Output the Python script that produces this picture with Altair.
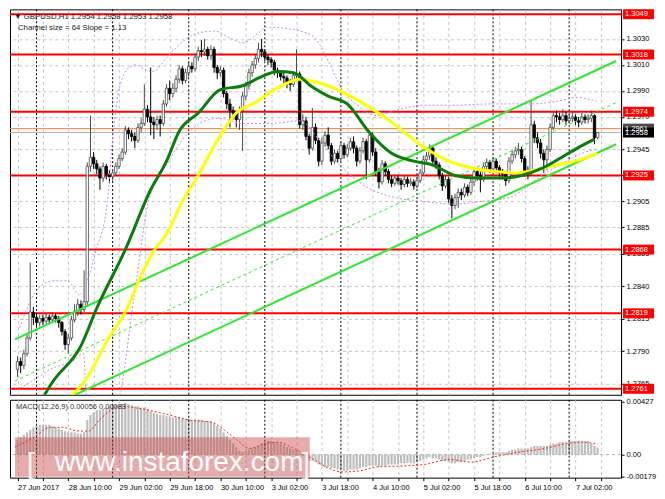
import json
import altair as alt
import pandas as pd

# ---------------- data ----------------
FIRST_BAR = -6          # bar index of the first visible H1 candle (27 Jun 18:00); 0 = 28 Jun 00:00
first_open = 1.2776

close = [
    1.2782, 1.2779, 1.2788, 1.2800, 1.2820, 1.2816, 1.2812, 1.2815, 1.2813, 1.2816,
    1.2814, 1.2817, 1.2815, 1.2812, 1.2805, 1.2795, 1.2800, 1.2814, 1.2820, 1.2826,
    1.2822, 1.2828, 1.2932, 1.2939, 1.2934, 1.2930, 1.2923, 1.2932, 1.2926, 1.2924,
    1.2927, 1.2932, 1.2938, 1.2943, 1.2960, 1.2957, 1.2955, 1.2952, 1.2962, 1.2965,
    1.2976, 1.2970, 1.2966, 1.2964, 1.2968, 1.2965, 1.2980, 1.2992, 1.2988, 1.2992,
    1.2999, 1.3007, 1.2998, 1.3004, 1.3009, 1.3007, 1.3016, 1.3021, 1.3020, 1.3022,
    1.3017, 1.3022, 1.3008, 1.3004, 1.3006, 1.2988, 1.2980, 1.2975, 1.2973, 1.2968,
    1.2975, 1.2986, 1.2994, 1.3004, 1.3010, 1.3015, 1.3022, 1.3020, 1.3016, 1.3014,
    1.3012, 1.3006, 1.3004, 1.3001, 1.3000, 1.2996, 1.2995, 1.3002, 1.3003, 1.2964,
    1.2967, 1.2955, 1.2946, 1.2962, 1.2952, 1.2936, 1.2950, 1.2956, 1.2948, 1.2936,
    1.2942, 1.2938, 1.2948, 1.2941, 1.2946, 1.2951, 1.2946, 1.2936, 1.2944, 1.2951,
    1.2937, 1.2956, 1.2943, 1.2928, 1.2920, 1.2934, 1.2928, 1.2922, 1.2919, 1.2923,
    1.2921, 1.2918, 1.2922, 1.2919, 1.2920, 1.2917, 1.2921, 1.2927, 1.2937, 1.2940,
    1.2946, 1.2936, 1.2933, 1.2925, 1.2917, 1.2922, 1.2907, 1.2902, 1.2908, 1.2912,
    1.2910, 1.2916, 1.2912, 1.2920, 1.2928, 1.2925, 1.2922, 1.2932, 1.2935, 1.2930,
    1.2936, 1.2931, 1.2927, 1.2926, 1.2921, 1.2936, 1.2941, 1.2944, 1.2945, 1.2938,
    1.2928, 1.2927, 1.2964, 1.2954, 1.2950, 1.2942, 1.2937, 1.2945, 1.2962, 1.2971,
    1.2970, 1.2968, 1.2971, 1.2967, 1.2969, 1.2970, 1.2967, 1.2966, 1.2970, 1.2968,
    1.2969, 1.2971, 1.2954, 1.2958,
]
high = [
    1.2786, 1.2785, 1.2791, 1.2803, 1.2858, 1.2824, 1.2819, 1.2818, 1.2818, 1.2819,
    1.2818, 1.2820, 1.2819, 1.2817, 1.2813, 1.2807, 1.2803, 1.2817, 1.2826, 1.2830,
    1.2829, 1.2852, 1.2935, 1.2971, 1.2943, 1.2937, 1.2932, 1.2935, 1.2934, 1.2929,
    1.2930, 1.2935, 1.2941, 1.2946, 1.2963, 1.2962, 1.2960, 1.2958, 1.2965, 1.2969,
    1.2995, 1.2979, 1.3008, 1.2970, 1.2971, 1.2971, 1.2983, 1.2995, 1.2998, 1.2996,
    1.3002, 1.3010, 1.3009, 1.3007, 1.3012, 1.3012, 1.3018, 1.3024, 1.3029, 1.3030,
    1.3024, 1.3025, 1.3024, 1.3010, 1.3009, 1.3008, 1.2990, 1.2984, 1.2978, 1.2975,
    1.2978, 1.2989, 1.2997, 1.3007, 1.3013, 1.3018, 1.3027, 1.3030, 1.3022, 1.3018,
    1.3016, 1.3014, 1.3008, 1.3006, 1.3004, 1.3002, 1.2999, 1.3005, 1.3022, 1.3005,
    1.2972, 1.2970, 1.2957, 1.2977, 1.2965, 1.2954, 1.2954, 1.2959, 1.2962, 1.2950,
    1.2945, 1.2944, 1.2951, 1.2950, 1.2949, 1.2954, 1.2955, 1.2948, 1.2947, 1.2954,
    1.2953, 1.2960, 1.2958, 1.2946, 1.2931, 1.2937, 1.2936, 1.2930, 1.2925, 1.2926,
    1.2925, 1.2923, 1.2925, 1.2924, 1.2923, 1.2922, 1.2924, 1.2930, 1.2940, 1.2943,
    1.2949, 1.2948, 1.2939, 1.2935, 1.2927, 1.2925, 1.2924, 1.2910, 1.2911, 1.2915,
    1.2915, 1.2919, 1.2918, 1.2923, 1.2931, 1.2931, 1.2928, 1.2935, 1.2938, 1.2937,
    1.2939, 1.2938, 1.2933, 1.2930, 1.2928, 1.2939, 1.2944, 1.2947, 1.2950, 1.2947,
    1.2940, 1.2932, 1.2983, 1.2967, 1.2958, 1.2953, 1.2945, 1.2948, 1.2965, 1.2974,
    1.2975, 1.2973, 1.2976, 1.2974, 1.2972, 1.2974, 1.2972, 1.2970, 1.2973, 1.2972,
    1.2972, 1.2975, 1.2972, 1.2958,
]
low = [
    1.2770, 1.2773, 1.2776, 1.2786, 1.2798, 1.2810, 1.2808, 1.2809, 1.2810, 1.2811,
    1.2811, 1.2812, 1.2812, 1.2808, 1.2802, 1.2791, 1.2788, 1.2798, 1.2812, 1.2817,
    1.2818, 1.2820, 1.2824, 1.2928, 1.2930, 1.2926, 1.2914, 1.2920, 1.2922, 1.2919,
    1.2921, 1.2925, 1.2930, 1.2936, 1.2941, 1.2953, 1.2951, 1.2946, 1.2950, 1.2958,
    1.2963, 1.2966, 1.2956, 1.2953, 1.2960, 1.2955, 1.2963, 1.2978, 1.2983, 1.2985,
    1.2989, 1.2996, 1.2995, 1.2996, 1.3001, 1.3004, 1.3005, 1.3013, 1.3016, 1.3017,
    1.3014, 1.3014, 1.3004, 1.2999, 1.3001, 1.2985, 1.2976, 1.2962, 1.2968, 1.2962,
    1.2960, 1.2944, 1.2983, 1.2991, 1.3001, 1.3007, 1.3012, 1.3016, 1.3013, 1.3010,
    1.3008, 1.3002, 1.3000, 1.2998, 1.2996, 1.2992, 1.2990, 1.2993, 1.2998, 1.2961,
    1.2960, 1.2952, 1.2941, 1.2944, 1.2949, 1.2932, 1.2933, 1.2947, 1.2945, 1.2933,
    1.2934, 1.2935, 1.2936, 1.2938, 1.2939, 1.2944, 1.2942, 1.2932, 1.2934, 1.2942,
    1.2922, 1.2935, 1.2940, 1.2925, 1.2915, 1.2918, 1.2925, 1.2919, 1.2916, 1.2917,
    1.2918, 1.2914, 1.2916, 1.2916, 1.2917, 1.2914, 1.2915, 1.2919, 1.2925, 1.2934,
    1.2937, 1.2933, 1.2930, 1.2922, 1.2913, 1.2915, 1.2904, 1.2892, 1.2899, 1.2900,
    1.2906, 1.2908, 1.2909, 1.2910, 1.2917, 1.2921, 1.2912, 1.2920, 1.2929, 1.2927,
    1.2928, 1.2928, 1.2924, 1.2922, 1.2917, 1.2919, 1.2934, 1.2938, 1.2941, 1.2935,
    1.2924, 1.2922, 1.2925, 1.2950, 1.2946, 1.2938, 1.2927, 1.2929, 1.2943, 1.2960,
    1.2966, 1.2964, 1.2966, 1.2964, 1.2965, 1.2966, 1.2964, 1.2962, 1.2964, 1.2965,
    1.2965, 1.2966, 1.2949, 1.2953,
]

# MACD histogram, one value per bar
macd_hist = [
    0.0012, 0.0014, 0.0016, 0.0018, 0.0020, 0.0022,
    0.0023, 0.0024, 0.0024, 0.0024, 0.0024, 0.0023,
    0.0022, 0.0021, 0.0020, 0.0019,
    0.0018, 0.0018, 0.0018, 0.0017, 0.0017, 0.0018,
    0.0028, 0.0032, 0.0034, 0.0036, 0.0036, 0.0037, 0.0038, 0.0039, 0.0040, 0.0040, 0.0040, 0.0041, 0.0042, 0.0041,
    0.0040, 0.0039, 0.0039, 0.0038, 0.0038, 0.0037, 0.0035, 0.0034, 0.0033, 0.0032, 0.0032, 0.0031,
    0.0031, 0.0030, 0.0030, 0.0030, 0.0029, 0.0029, 0.0029,
    0.0028, 0.0028, 0.0028, 0.0028, 0.0027, 0.0027, 0.0027,
    0.0025, 0.0023, 0.0021,
    0.0018, 0.0015, 0.0012, 0.0009, 0.0006, 0.0003, 0.0002,
    0.0003, 0.0004, 0.0005, 0.0006, 0.0007,
    0.0009, 0.0010, 0.0011, 0.0011, 0.0010, 0.0010,
    0.0009, 0.0008, 0.0006, 0.0005, 0.0004, 0.0004,
    0.0001, -0.0001, -0.0003, -0.0005, -0.0005, -0.0006, -0.0008,
    -0.0009, -0.0010, -0.0010, -0.0011,
    -0.0011, -0.0012, -0.0012, -0.0013, -0.0013, -0.0012,
    -0.0012, -0.0012, -0.0011, -0.0010, -0.0010,
    -0.0009, -0.0009, -0.0009, -0.0010, -0.0009, -0.0009,
    -0.0008, -0.0008, -0.0008, -0.0008, -0.0007, -0.0007, -0.0007, -0.0007, -0.0007,
    -0.0006, -0.0005, -0.0004, -0.0003, -0.0002,
    -0.0003, -0.0003, -0.0004, -0.0005, -0.0005, -0.0006, -0.0007,
    -0.0007, -0.0006, -0.0006, -0.0005, -0.0004, -0.0004,
    -0.0003, -0.0002, -0.0002, -0.0001, 0.00003,
    0.0001, 0.0001, 0.0002, 0.0002, 0.0002, 0.0002,
    0.0003, 0.0004, 0.0004, 0.0005, 0.0005, 0.0005, 0.0005,
    0.0006, 0.0007, 0.0007, 0.0007, 0.0007, 0.0007, 0.0008,
    0.0009, 0.0009, 0.0010, 0.0010, 0.0010, 0.0011,
    0.0011, 0.0011, 0.0011, 0.0011, 0.0011, 0.0011,
    0.0009, 0.0007, 0.00056,
]

# MACD signal line (read at knots)
signal_bar = [-6.8, -0.8, 4.3, 8.2, 13.3, 16.3, 20.2, 26.2, 33.1, 40.3, 48.1, 55.3, 59.2, 63.1,
              67.3, 72.1, 76.3, 81.1, 86.2, 92.2, 96.1, 102.1, 107.2, 117.1, 122.2, 130.3,
              137.2, 144.1, 152.2, 160.3, 167.2, 172.3, 177]
signal_val = [0.0006, 0.0014, 0.0022, 0.0022, 0.0019, 0.0019, 0.0029, 0.0039, 0.0037, 0.0033,
              0.0028, 0.0026, 0.0020, 0.0012, 0.0005, 0.0009, 0.0010, 0.0005, -0.0002, -0.0011,
              -0.0014, -0.0013, -0.0010, -0.0009, -0.0008, -0.0004, -0.0006, -0.0002, 0.0002,
              0.0005, 0.0009, 0.0010, 0.00083]

# moving averages (read at knots)
green_bar = [1, 5, 14, 19, 28, 36, 41, 45, 51, 58, 65, 71, 76, 81, 87, 92, 98, 105, 112, 119,
             125, 132, 139, 146, 153, 159, 165, 172, 176]
green_val = [1.2750, 1.2766, 1.2794, 1.2823, 1.2868, 1.2914, 1.2936, 1.2959, 1.2973, 1.2991,
             1.2994, 1.3001, 1.3005, 1.3004, 1.2993, 1.2986, 1.2980, 1.2958, 1.2942, 1.2936,
             1.2933, 1.2925, 1.2923, 1.2923, 1.2925, 1.2930, 1.2938, 1.2948, 1.2953]
yellow_bar = [9, 15, 23, 28, 33, 37, 41, 46, 51, 58, 63, 69, 75, 80, 83, 92, 102, 112, 122, 130,
              137, 145, 152, 157, 162, 170, 177]
yellow_val = [1.2752, 1.2766, 1.2801, 1.2820, 1.2848, 1.2867, 1.2880, 1.2905, 1.2925, 1.2956,
              1.2973, 1.2981, 1.2991, 1.2997, 1.2999, 1.2994, 1.2982, 1.2966, 1.2947, 1.2936,
              1.2931, 1.2928, 1.2927, 1.2929, 1.2932, 1.2936, 1.2942]

# dotted purple envelope (read at knots)
band_up_bar = [-5.3, -0.2, 5.2, 9.7, 13.6, 15.7, 18.7, 22.3, 24.1, 26.2, 29.2, 31.6, 33.7, 36.7,
               41.2, 45.7, 50.2, 56.3, 60.8, 65.2, 69.7, 72.7, 78.7, 83.2, 87.7, 92.2, 96.7,
               101.2, 107.2, 113.2, 122.2, 131.2, 143.2, 155.2, 164.2, 170.2, 176.8]
band_up_val = [1.2808, 1.2836, 1.2844, 1.2844, 1.2833, 1.2842, 1.2867, 1.2904, 1.2956, 1.2993,
               1.3008, 1.3010, 1.3007, 1.3005, 1.3016, 1.3027, 1.3034, 1.3036, 1.3031, 1.3027,
               1.3034, 1.3039, 1.3038, 1.3036, 1.3031, 1.3012, 1.2990, 1.2979, 1.2971, 1.2975,
               1.2979, 1.2979, 1.2980, 1.2980, 1.2982, 1.2985, 1.2982]
band_lo_bar = [-6.2, -0.8, 5.2, 11.2, 14.8, 16.0, 24.7, 30.7, 35.2, 41.2, 47.2, 53.2, 57.7, 65.2,
               74.2, 83.2, 89.2, 95.2, 104.2, 113.2, 122.2, 131.2, 140.2, 149.2, 158.2, 165.7,
               173.2, 176.8]
band_lo_val = [1.2760, 1.2768, 1.2777, 1.2782, 1.2788, 1.2745, 1.2745, 1.2830, 1.2904, 1.2934,
               1.2956, 1.2967, 1.2969, 1.2965, 1.2965, 1.2967, 1.2952, 1.2934, 1.2916, 1.2908,
               1.2905, 1.2903, 1.2905, 1.2908, 1.2923, 1.2934, 1.2943, 1.2945]

# regression channel (size 64, slope 1.13)
chan_bar = [-6.8, 182.8]
chan_upper = [1.2799, 1.3013]
chan_mid = [1.2767, 1.2981]
chan_lower = [1.2735, 1.2949]

levels = [1.3049, 1.3018, 1.2974, 1.2925, 1.2868, 1.2819, 1.2761]
ask_price = 1.2961
bid_price = 1.2958

price_ticks = [1.3030, 1.3010, 1.2990, 1.2970, 1.2945, 1.2925, 1.2905, 1.2885, 1.2865,
               1.2840, 1.2815, 1.2790, 1.2765]
macd_ticks = [0.00427, 0.0, -0.00179]
macd_tick_labels = ["0.00427", "0.00", "-0.00179"]

grid_bars = list(range(-6, 183, 8))
day_bars = [0, 24, 48, 72, 96, 120, 144, 168]
time_label_bars = [-6, 10, 26, 42, 58, 74, 90, 106, 122, 138, 154, 170]
time_labels = ["27 Jun 2017", "28 Jun 10:00", "29 Jun 02:00", "29 Jun 18:00", "30 Jun 10:00",
               "3 Jul 02:00", "3 Jul 18:00", "4 Jul 10:00", "5 Jul 02:00", "5 Jul 18:00",
               "6 Jul 10:00", "7 Jul 02:00"]

header_1 = "\u25bc GBPUSD,H1 1.2954 1.2958 1.2953 1.2958"
header_2 = "Channel size = 64 Slope = 1.13"
macd_header = "MACD(12,26,9) 0.00056 0.00083"
watermark = "www.instaforex.com"
wm_bar = [-6.8, 86.2]
wm_val = [0.0014, -0.00178]

# ---------------- layout / style ----------------
W = 612
H_MAIN = 386
H_MACD = 78
FONT = "Liberation Sans"
GRID = "#c4c4c4"

xs = alt.Scale(domain=[-6.8, 182.8], nice=False, zero=False)
ys = alt.Scale(domain=[1.27564, 1.30527], nice=False, zero=False)
ms = alt.Scale(domain=[-0.00186, 0.00443], nice=False, zero=False)

vals = json.dumps(time_label_bars)
labs = json.dumps(time_labels)
time_expr = f"indexof({vals}, datum.value) >= 0 ? {labs}[indexof({vals}, datum.value)] : ''"
mvals = json.dumps(macd_ticks)
mlabs = json.dumps(macd_tick_labels)
macd_expr = f"indexof({mvals}, datum.value) >= 0 ? {mlabs}[indexof({mvals}, datum.value)] : ''"

# one axis object per channel, shared by every layer that uses the channel
x_axis_main = alt.Axis(values=grid_bars, grid=True, gridColor=GRID, gridDash=[3, 3],
                       labels=False, ticks=False, domain=False, title=None, zindex=0)
y_axis_main = alt.Axis(orient="right", values=price_ticks, format=".4f", grid=True,
                       gridColor=GRID, gridDash=[3, 3], tickColor="black", tickSize=3,
                       domainColor="black", labelColor="black", labelFont=FONT,
                       labelFontSize=7.5, labelPadding=2, labelOverlap=False,
                       labelBound=False, labelFlush=False, title=None, zindex=0)
x_axis_macd = alt.Axis(values=grid_bars, grid=True, gridColor=GRID, gridDash=[3, 3],
                       labelExpr=time_expr, labelAlign="left", labelFont=FONT,
                       labelFontSize=7.5, labelColor="black", tickColor="black", tickSize=3,
                       domain=False, labelPadding=3, labelOverlap=False, labelBound=False,
                       labelFlush=False, title=None, zindex=0)
y_axis_macd = alt.Axis(orient="right", values=macd_ticks, labelExpr=macd_expr, grid=False,
                       tickColor="black", tickSize=3, domainColor="black", labelColor="black",
                       labelFont=FONT, labelFontSize=7.5, labelPadding=2, labelOverlap=False,
                       labelBound=False, labelFlush=False, title=None, zindex=0)


def X(field="i", axis=x_axis_main):
    return alt.X(f"{field}:Q", scale=xs, axis=axis)


def Y(field):
    return alt.Y(f"{field}:Q", scale=ys, axis=y_axis_main)


def XM(field="i"):
    return alt.X(f"{field}:Q", scale=xs, axis=x_axis_macd)


def M(field):
    return alt.Y(f"{field}:Q", scale=ms, axis=y_axis_macd)


# ---------------- tables ----------------
n = len(close)
opens = [first_open] + close[:-1]
bars = pd.DataFrame({"i": list(range(FIRST_BAR, FIRST_BAR + n)), "open": opens,
                     "close": close, "high": high, "low": low})
bars["up"] = bars["close"] >= bars["open"]
bars["blo"] = bars[["open", "close"]].min(axis=1)
bars["bhi"] = bars[["open", "close"]].max(axis=1)
bars.loc[bars["bhi"] - bars["blo"] < 0.00004, "bhi"] = bars["blo"] + 0.00004
bars["dir"] = bars["up"].map({True: "up", False: "down"})

day_df = pd.DataFrame({"i": day_bars})
lev_df = pd.DataFrame({"level": levels, "label": [f"{v:.4f}" for v in levels]})

bands = pd.concat([
    pd.DataFrame({"i": band_up_bar, "p": band_up_val, "b": "up"}),
    pd.DataFrame({"i": band_lo_bar, "p": band_lo_val, "b": "lo"}),
])
chan = pd.concat([
    pd.DataFrame({"i": chan_bar, "p": chan_upper, "b": "upper"}),
    pd.DataFrame({"i": chan_bar, "p": chan_lower, "b": "lower"}),
])
chan_m = pd.DataFrame({"i": chan_bar, "p": chan_mid})
green_df = pd.DataFrame({"i": green_bar, "p": green_val})
yellow_df = pd.DataFrame({"i": yellow_bar, "p": yellow_val})

# ---------------- main panel ----------------
day_layer = alt.Chart(day_df).mark_rule(color="black", strokeDash=[2, 2], strokeWidth=1).encode(x=X())
level_layer = alt.Chart(lev_df).mark_rule(color="#ff0000", strokeWidth=2).encode(y=Y("level"))
ask_layer = alt.Chart(pd.DataFrame({"p": [ask_price]})).mark_rule(
    color="#ff7a30", strokeWidth=1).encode(y=Y("p"))
bid_layer = alt.Chart(pd.DataFrame({"p": [bid_price]})).mark_rule(
    color="#b0b0b0", strokeWidth=1).encode(y=Y("p"))

cdir = alt.Scale(domain=["up", "down"], range=["#4a4a4a", "#000000"])
cfill = alt.Scale(domain=["up", "down"], range=["#ffffff", "#000000"])
wick_layer = alt.Chart(bars).mark_rule(strokeWidth=1, clip=True).encode(
    x=X(), y=Y("low"), y2="high",
    color=alt.Color("dir:N", scale=cdir, legend=None))
body_layer = alt.Chart(bars).mark_bar(size=2.4, strokeWidth=0.8, clip=True).encode(
    x=X(), y=Y("blo"), y2="bhi",
    fill=alt.Fill("dir:N", scale=cfill, legend=None),
    stroke=alt.Stroke("dir:N", scale=cdir, legend=None))

band_layer = alt.Chart(bands).mark_line(color="#c88ae6", strokeDash=[2, 2], strokeWidth=1,
                                        clip=True, interpolate="monotone").encode(
    x=X(), y=Y("p"), detail="b:N")
chan_layer = alt.Chart(chan).mark_line(color="#2ee82e", strokeWidth=2, clip=True).encode(
    x=X(), y=Y("p"), detail="b:N")
chan_mid_layer = alt.Chart(chan_m).mark_line(color="#2ee82e", strokeWidth=1, strokeDash=[3, 3],
                                             clip=True).encode(x=X(), y=Y("p"))
yellow_layer = alt.Chart(yellow_df).mark_line(color="#ffff00", strokeWidth=3, clip=True,
                                              interpolate="monotone").encode(x=X(), y=Y("p"))
green_layer = alt.Chart(green_df).mark_line(color="#0b7d0b", strokeWidth=3, clip=True,
                                            interpolate="monotone").encode(x=X(), y=Y("p"))

head1 = alt.Chart(pd.DataFrame({"t": [header_1]})).mark_text(
    align="left", baseline="middle", font=FONT, fontSize=7.8, color="#222").encode(
    x=alt.value(4), y=alt.value(8), text="t:N")
head2 = alt.Chart(pd.DataFrame({"t": [header_2]})).mark_text(
    align="left", baseline="middle", font=FONT, fontSize=7.8, color="#222").encode(
    x=alt.value(8), y=alt.value(19), text="t:N")

box_levels = alt.Chart(lev_df).mark_tick(orient="horizontal", size=31, thickness=10,
                                         opacity=1, color="#ff0000").encode(
    x=alt.value(W + 17.5), y=Y("level"))
box_level_text = alt.Chart(lev_df).mark_text(align="left", baseline="middle", font=FONT,
                                             fontSize=7.5, color="white").encode(
    x=alt.value(W + 4), y=Y("level"), text="label:N")
quote_df = pd.DataFrame({"p": [ask_price, bid_price],
                         "label": [f"{ask_price:.4f}", f"{bid_price:.4f}"],
                         "k": ["ask", "bid"]})
box_quote = alt.Chart(quote_df).mark_tick(orient="horizontal", size=31, thickness=10,
                                          opacity=1).encode(
    x=alt.value(W + 17.5), y=Y("p"),
    color=alt.Color("k:N", scale=alt.Scale(domain=["ask", "bid"],
                                           range=["#ff7a30", "#000000"]), legend=None))
box_quote_text = alt.Chart(quote_df).mark_text(align="left", baseline="middle", font=FONT,
                                               fontSize=7.5, color="white").encode(
    x=alt.value(W + 4), y=Y("p"), text="label:N")

main = alt.layer(
    day_layer, level_layer, ask_layer, bid_layer,
    wick_layer, body_layer, band_layer, chan_layer, chan_mid_layer,
    yellow_layer, green_layer, head1, head2,
    box_levels, box_level_text, box_quote, box_quote_text,
).properties(width=W, height=H_MAIN)

# ---------------- MACD panel ----------------
macd_df = pd.DataFrame({"i": list(range(FIRST_BAR, FIRST_BAR + len(macd_hist))), "v": macd_hist})
sig_df = pd.DataFrame({"i": signal_bar, "v": signal_val})

hist_layer = alt.Chart(macd_df).mark_bar(size=2.2, color="#bdbdbd").encode(
    x=XM(), y=M("v"), y2=alt.datum(0))
zero_layer = alt.Chart(pd.DataFrame({"z": [0.0]})).mark_rule(
    color="#b0b0b0", strokeDash=[3, 3], strokeWidth=1).encode(y=M("z"))
mday_layer = alt.Chart(day_df).mark_rule(color="black", strokeDash=[2, 2], strokeWidth=1).encode(x=XM())
sig_layer = alt.Chart(sig_df).mark_line(color="#ff2020", strokeDash=[2, 2], strokeWidth=1,
                                        interpolate="monotone").encode(x=XM(), y=M("v"))
wm_df = pd.DataFrame({"x0": [wm_bar[0]], "x1": [wm_bar[1]], "y0": [wm_val[0]], "y1": [wm_val[1]]})
wm_rect = alt.Chart(wm_df).mark_rect(color="#c84646", opacity=0.45).encode(
    x=XM("x0"), x2="x1", y=M("y0"), y2="y1")
wm_text = alt.Chart(pd.DataFrame({"t": [watermark], "i": [45.0], "v": [-0.00135]})).mark_text(
    align="center", baseline="alphabetic", font=FONT, fontSize=28, color="white").encode(
    x=XM(), y=M("v"), text="t:N")
br_df = pd.DataFrame({"t": ["[", "]"], "i": [-1.8, 85.0], "v": [-0.00160, -0.00160]})
wm_br = alt.Chart(br_df).mark_text(align="center", baseline="alphabetic", font=FONT,
                                   fontSize=30, color="#f4f4f4", fontWeight=300).encode(
    x=XM(), y=M("v"), text="t:N")
macd_head = alt.Chart(pd.DataFrame({"t": [macd_header]})).mark_text(
    align="left", baseline="middle", font=FONT, fontSize=7.5, color="#333").encode(
    x=alt.value(6), y=alt.value(7), text="t:N")

macd = alt.layer(
    hist_layer, zero_layer, mday_layer, sig_layer, wm_rect, wm_text, wm_br, macd_head
).properties(width=W, height=H_MACD)

chart = alt.vconcat(main, macd, spacing=1).properties(
    padding=0, background="white"
).configure_view(stroke="black", strokeWidth=1)

chart.save("out.html", embed_options={"renderer": "svg", "actions": False})
